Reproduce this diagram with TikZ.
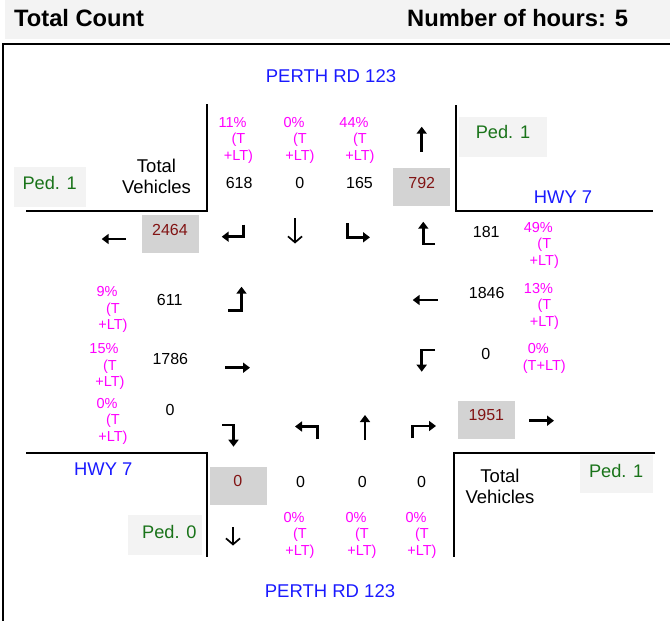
\documentclass[tikz,border=0pt]{standalone}
\usepackage{fontspec}
\setmainfont{Liberation Sans}
\usetikzlibrary{arrows.meta}
\definecolor{pctc}{RGB}{255,0,255}
\definecolor{roadc}{RGB}{26,26,255}
\definecolor{pedc}{RGB}{25,115,25}
\definecolor{totc}{RGB}{130,20,20}
\definecolor{boxc}{RGB}{211,211,211}
\definecolor{pedbg}{RGB}{243,243,243}
\newcommand{\pfirst}[1]{\mbox{#1\hspace{12pt}}}
\tikzset{
  pct/.style={text=pctc, font=\fontsize{14.5}{16.5}\selectfont, align=center, inner sep=0pt},
  num/.style={font=\fontsize{16}{18}\selectfont, inner sep=0pt},
  totbox/.style={fill=boxc, minimum width=56.7pt, minimum height=37.5pt, inner sep=0pt},
  tottxt/.style={text=totc, font=\fontsize{16}{18}\selectfont, inner sep=0pt},
  pedbox/.style={fill=pedbg, inner sep=0pt},
  pedtxt/.style={text=pedc, font=\fontsize{18.2}{20}\selectfont, inner sep=0pt},
  roadv/.style={text=roadc, font=\fontsize{18.5}{20}\selectfont, inner sep=0pt},
  roadh/.style={text=roadc, font=\fontsize{18.4}{20}\selectfont, inner sep=0pt},
  tv/.style={font=\fontsize{18.5}{20.5}\selectfont, align=center, inner sep=0pt},
  hdr/.style={font=\fontsize{23.7}{26}\selectfont\bfseries, inner sep=0pt, anchor=base west},
  corner/.style={line width=2pt},
  thick arrow/.style={line width=2.8pt, line join=miter, -{Triangle[length=7pt,width=10pt]}},
  thin arrow/.style={line width=1.7pt, -{Straight Barb[length=6pt,width=14pt]}},
}
\begin{document}
\begin{tikzpicture}[x=1pt,y=-1pt]
\useasboundingbox (0,0) rectangle (670,621);
% header
\fill[pedbg] (5,0) rectangle (670,39);
\node[hdr] (title) at (14,27) {Total Count};
\node[hdr] (hours) at (407,27) {Number of hours: 5};
% frame
\draw[line width=2pt] (3,621) -- (3,44) -- (670,44);
% corners
\draw[corner] (26,210.7) -- (206.7,210.7) -- (206.7,104);
\draw[corner] (456,105) -- (456,210.7) -- (652.7,210.7);
\draw[corner] (26,453.3) -- (206.7,453.3) -- (206.7,557);
\draw[corner] (655,453.3) -- (454,453.3) -- (454,557);
% roads
\node[roadv] (pnorth) at (331,76) {PERTH RD 123};
\node[roadv] (psouth) at (330,591) {PERTH RD 123};
\node[roadh] (hne) at (563,196.7) {HWY 7};
\node[roadh] (hsw) at (103.3,469.3) {HWY 7};
% total vehicles
\node[tv] (tvnw) at (156.5,176.5) {Total\\Vehicles};
\node[tv] (tvse) at (500,486.5) {Total\\Vehicles};
% ped boxes
\node[pedbox, minimum width=72pt, minimum height=39.4pt] (pbnw) at (50,187) {};
\node[pedtxt] (pnw) at (49.7,183) {Ped. 1};
\node[pedbox, minimum width=87.7pt, minimum height=39.4pt] (pbne) at (503.2,137) {};
\node[pedtxt] (pne) at (503,132) {Ped. 1};
\node[pedbox, minimum width=74pt, minimum height=40pt] (pbsw) at (165,535) {};
\node[pedtxt] (psw) at (169.3,532) {Ped. 0};
\node[pedbox, minimum width=73.3pt, minimum height=38.3pt] (pbse) at (616.7,474.2) {};
\node[pedtxt] (pse) at (616.2,470.7) {Ped. 1};
% total boxes
\node[totbox] (b1) at (170.7,233.8) {};
\node[tottxt] (t1) at (170,229.5) {2464};
\node[totbox] (b2) at (421.7,187) {};
\node[tottxt] (t2) at (421.7,183) {792};
\node[totbox] (b3) at (486.7,419.8) {};
\node[tottxt] (t3) at (486.3,415) {1951};
\node[totbox] (b4) at (238.3,485.8) {};
\node[tottxt] (t4) at (237.8,481) {0};
% numbers
\node[num] (n618) at (239.2,182.8) {618};
\node[num] (n0n) at (299.7,183) {0};
\node[num] (n165) at (359.5,183) {165};
\node[num] (n181) at (486.2,231.7) {181};
\node[num] (n1846) at (486.7,293.3) {1846};
\node[num] (n0e) at (485.8,354) {0};
\node[num] (n611) at (169.7,300) {611};
\node[num] (n1786) at (170.3,358.8) {1786};
\node[num] (n0w) at (170,410) {0};
\node[num] (n0s1) at (300.5,481.7) {0};
\node[num] (n0s2) at (362.2,481.7) {0};
\node[num] (n0s3) at (421.5,481.7) {0};
% percents
\node[pct] (pn1) at (238.5,140) {\pfirst{11\%}\\(T\\+LT)};
\node[pct] (pn2) at (300,140) {\pfirst{0\%}\\(T\\+LT)};
\node[pct] (pn3) at (360,140) {\pfirst{44\%}\\(T\\+LT)};
\node[pct] (pe1) at (544.3,245) {\pfirst{49\%}\\(T\\+LT)};
\node[pct] (pe2) at (544.5,306) {\pfirst{13\%}\\(T\\+LT)};
\node[pct] (pe3) at (544.3,358.3) {\pfirst{0\%}\\(T+LT)};
\node[pct] (pw1) at (113,309.5) {\pfirst{9\%}\\(T\\+LT)};
\node[pct] (pw2) at (110,366.5) {\pfirst{15\%}\\(T\\+LT)};
\node[pct] (pw3) at (113,421) {\pfirst{0\%}\\(T\\+LT)};
\node[pct] (ps1) at (300,535) {\pfirst{0\%}\\(T\\+LT)};
\node[pct] (ps2) at (362,535) {\pfirst{0\%}\\(T\\+LT)};
\node[pct] (ps3) at (422,535) {\pfirst{0\%}\\(T\\+LT)};
% movement arrows
\draw[thick arrow] (243.3,224.5) -- (243.3,236.7) -- (221.7,236.7);
\draw[thin arrow] (295,218) -- (295,243.5);
\draw[thick arrow] (347.3,223) -- (347.3,237.3) -- (370,237.3);
\draw[thick arrow] (435,244) -- (423.3,244) -- (423.3,221.7);
\draw[thick arrow] (228,310.5) -- (241.5,310.5) -- (241.5,286.7);
\draw[thick arrow] (437.7,300) -- (412.7,300);
\draw[thick arrow] (225,367.7) -- (250,367.7);
\draw[thick arrow] (435,350) -- (421.7,350) -- (421.7,371.7);
\draw[thick arrow] (222,425) -- (233.5,425) -- (233.5,446.7);
\draw[thick arrow] (317.3,439.3) -- (317.3,426.5) -- (295,426.5);
\draw[thick arrow] (365,440) -- (365,415);
\draw[thick arrow] (412.5,438.3) -- (412.5,426) -- (436,426);
% outflow arrows
\draw[thick arrow] (126,239) -- (101.7,239);
\draw[thick arrow] (529.3,420.7) -- (554,420.7);
\draw[thick arrow] (421.7,151.7) -- (421.7,126.7);
\draw[thin arrow] (233,527) -- (233,545.5);
\end{tikzpicture}
\end{document}
